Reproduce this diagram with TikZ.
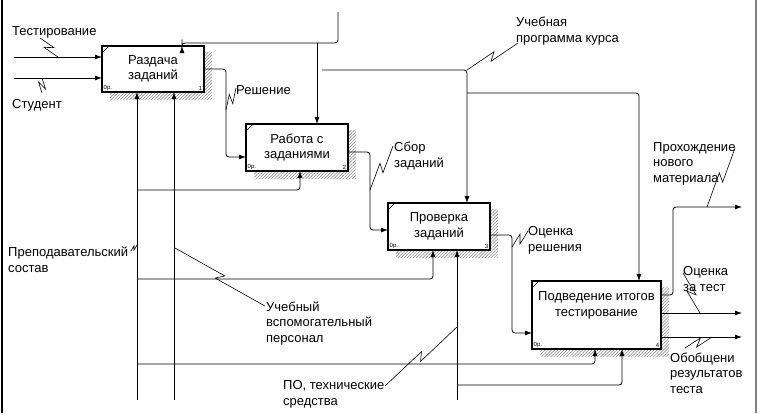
\documentclass[tikz,border=0pt]{standalone}
\usepackage{fontspec}
\setmainfont{Liberation Sans}
\usetikzlibrary{arrows.meta,positioning,calc,patterns.meta}

\tikzset{
  func/.style={draw,line width=1.4pt,fill=white,inner sep=1pt,outer sep=0pt,align=center,
    font=\fontsize{13}{15.5}\selectfont},
  lbl/.style={inner sep=0pt,align=left,font=\fontsize{13}{15.5}\selectfont},
  tag/.style={inner sep=1.5pt,font=\fontsize{6}{6}\selectfont},
  flow/.style={line width=.8pt,rounded corners=3pt,->},
  squig/.style={line width=.6pt,to path={
      -- ($(\tikztostart)!.5!(\tikztotarget)!#1!(\tikztotarget)!#1!90:(\tikztotarget)$)
      -- ($(\tikztostart)!.5!(\tikztotarget)!-#1!(\tikztotarget)!#1!-90:(\tikztotarget)$)
      -- (\tikztotarget)}},
  squig/.default=3.5pt
}
\newcommand{\hatchshadow}[1]{%
  \fill[pattern={Lines[angle=45,distance=2.2pt,line width=.5pt]},pattern color=gray]
    ($(#1.north east)+(0,6)$) -- ++(8,0) |- ($(#1.south west)+(8,8)$)
    -- ++(0,-8) -| (#1.south east) -- cycle;}
\newcommand{\functags}[2]{%
  \node[tag,anchor=south west] (#1c) at (#1.south west) {0р.};
  \node[tag,anchor=south east] (#1n) at (#1.south east) {#2};
  \draw[line width=.6pt] ($(#1.north west)+(0,7)$) -- ($(#1.north west)+(7,0)$);}

\begin{document}
\begin{tikzpicture}[x=1pt,y=-1pt,>={Latex[length=7pt,width=5pt]}]
\useasboundingbox (0,0) rectangle (764,413);
\draw[line width=1.5pt] (2,0) -- (2,413);
\draw[line width=1.5pt,gray] (756,0) -- (756,413);
% functions
\node[func,minimum width=102pt,minimum height=46pt] (b1) at (153,69) {Раздача\\заданий};
\node[func,minimum width=102pt,minimum height=47pt,below right=32pt and 42pt of b1] (b2) {Работа с\\заданиями};
\node[func,minimum width=102pt,minimum height=47pt,below right=32pt and 40pt of b2] (b3) {Проверка\\заданий};
\node[func,minimum width=129pt,minimum height=68pt,below right=31pt and 42pt of b3] (b4) {Подведение итогов\\тестирование\\[6pt]};
\hatchshadow{b1}\hatchshadow{b2}\hatchshadow{b3}\hatchshadow{b4}
\node[func,minimum width=102pt,minimum height=46pt] at (b1) {Раздача\\заданий};
\node[func,minimum width=102pt,minimum height=47pt] at (b2) {Работа с\\заданиями};
\node[func,minimum width=102pt,minimum height=47pt] at (b3) {Проверка\\заданий};
\node[func,minimum width=129pt,minimum height=68pt] at (b4) {Подведение итогов\\тестирование\\[6pt]};
\functags{b1}{1}\functags{b2}{2}\functags{b3}{3}\functags{b4}{4}
%
\coordinate (tin) at (14,57);
\coordinate (sin) at (14,78);
\coordinate (ctop) at (338,12);
\coordinate (c1) at (182,43);
\coordinate (c2) at (317,43);
\coordinate (p0) at (322,70);
\coordinate (p1) at (467,70);
\coordinate (p2) at (467,93);
\coordinate (p3) at (639,93);
\coordinate (r1) at (226,69);
\coordinate (s1) at (370,152);
\coordinate (o1) at (512,235);
\coordinate (n1) at (673,207);
\coordinate (n2) at (742,207);
\coordinate (e2) at (742,313);
\coordinate (e3) at (742,337);
\coordinate (m1) at (137,400);
\coordinate (m2) at (174,400);
\coordinate (m3) at (457,400);
\coordinate (k1) at (137,190);
\coordinate (k2) at (137,279);
\coordinate (k3) at (137,364);
\coordinate (k4) at (457,385);
%
\draw[flow] (tin) -- (tin -| b1.west);
\draw[flow] (sin) -- (sin -| b1.west);
\draw[flow] (ctop) |- (c1) -- (c1 |- b1.north);
\draw[flow] (c2) -- (c2 |- b2.north);
\draw[flow] (p0) -- (p1) -- (p1 |- b3.north);
\draw[flow] (p2) -- (p3) -- (p3 |- b4.north);
\draw[flow] (b1.east) -- (r1) |- ($(b2.south west)+(0,-14)$);
\draw[flow] (b2.east |- s1) -- (s1) |- ($(b3.south west)+(0,-20)$);
\draw[flow] (b3.east |- o1) -- (o1) |- ($(b4.south west)+(0,-16)$);
\draw[flow] ($(b4.north east)+(0,14)$) -| (n1) -- (n2);
\draw[flow] (e2 -| b4.east) -- (e2);
\draw[flow] (e3 -| b4.east) -- (e3);
\draw[flow] (m1) -- (m1 |- b1.south);
\draw[flow] (m2) -- (m2 |- b1.south);
\draw[flow] (k1) -| ($(b2.south west)+(54,0)$);
\draw[flow] (k2) -| ($(b3.south west)+(45,0)$);
\draw[flow] (k3) -| ($(b4.south west)+(63,0)$);
\draw[flow] (m3) -- (m3 |- b3.south);
\draw[flow] (k4) -| ($(b4.south west)+(90,0)$);
%
\node[lbl,anchor=base west] (tst) at (12,35) {Тестирование};
\node[lbl,anchor=base west] (std) at (12,108) {Студент};
\node[lbl,anchor=base west] (resh) at (236,94) {Решение};
\node[lbl,anchor=base west] (sbor) at (394,167) {Сбор\\заданий};
\node[lbl,anchor=base west] (prog) at (516,42) {Учебная\\программа курса};
\node[lbl,anchor=base west] (ocr) at (528,251) {Оценка\\решения};
\node[lbl,anchor=base west] (nov) at (653,182) {Прохождение\\нового\\материала};
\node[lbl,anchor=base west] (oct) at (683,291) {Оценка\\за тест};
\node[lbl,anchor=base west] (obob) at (670,393) {Обобщени\\результатов\\теста};
\node[lbl,anchor=base west] (prep) at (8,272) {Преподавательский\\состав};
\node[lbl,anchor=base west] (ucheb) at (266,342) {Учебный\\вспомогательный\\персонал};
\node[lbl,anchor=base west] (po) at (283,405) {ПО, технические\\средства};
%
\draw[squig] (40,38) to (58,57);
\draw[squig] (42,93) to (42,78);
\draw[squig] (236,88) to (226,110);
\draw[squig] (393,146) to (370,190);
\draw[squig] (528,231) to (512,247);
\draw[squig] (735,148) to (707,207);
\draw[squig] (683,273) to (700,313);
\draw[squig] (685,348) to (712,337);
\draw[squig=1.5pt] (131,251) to (137,245);
\draw[squig] (265,306) to (175,248);
\draw[squig] (385,386) to (457,327);
\draw[squig] (518,43) to (467,70);
\end{tikzpicture}
\end{document}
